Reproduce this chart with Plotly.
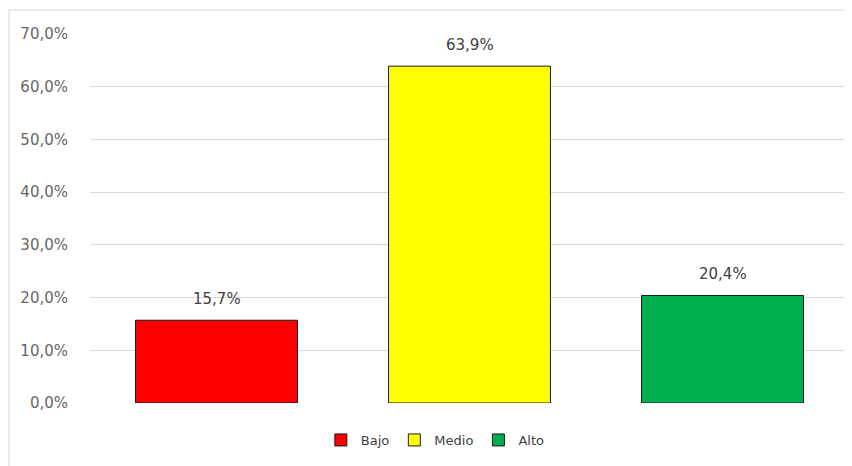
import plotly.graph_objects as go

categories = ["Bajo", "Medio", "Alto"]
values = [0.157, 0.639, 0.204]
colors = ["#FF0000", "#FFFF00", "#00B050"]
tick_vals = [0, 0.1, 0.2, 0.3, 0.4, 0.5, 0.6, 0.7]

# page body has an 8px default margin; figure sized to fit the window
W, H = 844, 458
L, R, T, B = 82, 3, 26, 63
PW, PH = W - L - R, H - T - B

fig = go.Figure()
for cat, val, col in zip(categories, values, colors):
    fig.add_trace(go.Bar(
        x=[cat], y=[val], name=cat,
        marker=dict(color=col, line=dict(color="#1a1a1a", width=1)),
    ))

annotations = [
    dict(x=cat, y=val, xref="x", yref="y", text=f"{val*100:.1f}%".replace(".", ","),
         showarrow=False, yanchor="bottom", yshift=10,
         font=dict(family="DejaVu Sans, sans-serif", size=15, color="#404040"))
    for cat, val in zip(categories, values)
]

fig.update_layout(
    width=W, height=H,
    margin=dict(l=L, r=R, t=T, b=B),
    paper_bgcolor="white", plot_bgcolor="white",
    font=dict(family="DejaVu Sans, sans-serif", color="#595959", size=12),
    barmode="overlay",
    bargap=0.36,
    separators=",.",
    showlegend=True,
    legend=dict(orientation="h", x=0.455, xanchor="center", y=-(440 - 403) / PH, yanchor="middle",
                font=dict(size=13, color="#404040"), itemwidth=30, traceorder="normal"),
    xaxis=dict(showticklabels=False, showgrid=False, zeroline=False, showline=False),
    yaxis=dict(range=[0, 0.7], tickvals=tick_vals, tickformat=".1%",
               showgrid=True, gridcolor="#D9D9D9", gridwidth=1, zeroline=False,
               showline=False, ticklabelstandoff=21,
               tickfont=dict(family="DejaVu Sans, sans-serif", size=15, color="#666666")),
    annotations=annotations,
    shapes=[
        dict(type="line", xref="paper", yref="paper", x0=(1 - L) / PW, x1=(1 - L) / PW,
             y0=1 + (T - 2) / PH, y1=-B / PH - 0.05,
             line=dict(color="#D9D9D9", width=1)),
        dict(type="line", xref="paper", yref="paper", x0=(1 - L) / PW, x1=1.02,
             y0=1 + (T - 2) / PH, y1=1 + (T - 2) / PH,
             line=dict(color="#D9D9D9", width=1)),
    ],
)

fig.write_html("out.html")
